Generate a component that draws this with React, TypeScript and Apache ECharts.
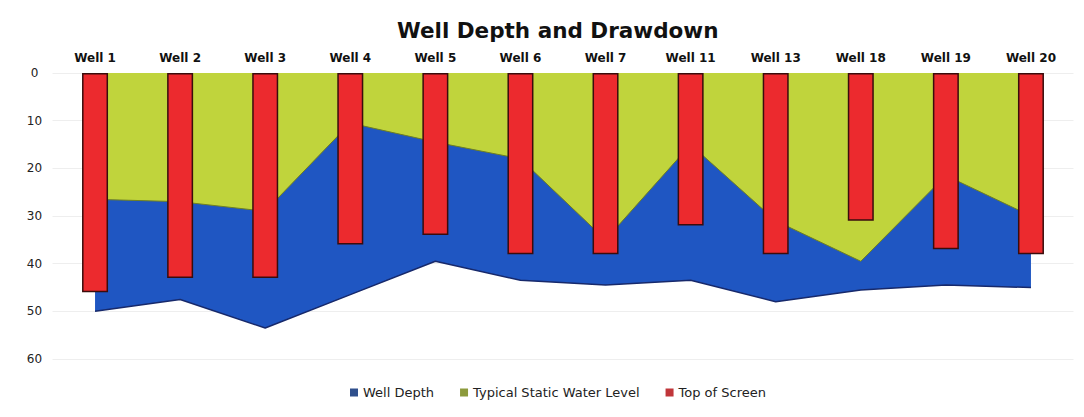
import React, { useEffect, useRef } from "react";
import * as echarts from "echarts";

const wells = ["Well 1", "Well 2", "Well 3", "Well 4", "Well 5", "Well 6", "Well 7", "Well 11", "Well 13", "Well 18", "Well 19", "Well 20"];
const wellDepth = [50, 47.5, 53.5, 46.5, 39.5, 43.5, 44.5, 43.5, 48, 45.5, 44.5, 45];
const staticWaterLevel = [26.5, 27, 29, 10.5, 14.5, 18, 35, 15, 31, 39.5, 21.5, 30];
const topOfScreen = [46, 43, 43, 36, 34, 38, 38, 32, 38, 31, 37, 38];
const yTicks = [0, 10, 20, 30, 40, 50, 60];

export default function App() {
  const ref = useRef<HTMLDivElement>(null);
  useEffect(() => {
    if (!ref.current) return;
    const chart = echarts.init(ref.current, undefined, { renderer: "svg" });
    const font = "'DejaVu Sans', 'Open Sans', sans-serif";
    chart.setOption({
      animation: false,
      backgroundColor: "#ffffff",
      textStyle: { fontFamily: font },
      title: {
        text: "Well Depth and Drawdown",
        left: 392,
        top: 14,
        textStyle: { fontFamily: font, fontSize: 21.5, fontWeight: "bold", color: "#111111" },
      },
      legend: {
        bottom: 13,
        left: 345,
        itemWidth: 8,
        itemHeight: 8,
        itemGap: 26,
        icon: "rect",
        textStyle: { fontFamily: font, fontSize: 13, color: "#222222" },
        data: [
          { name: "Well Depth", itemStyle: { color: "#2f4f8c", borderWidth: 0 } },
          { name: "Typical Static Water Level", itemStyle: { color: "#8c9a3c", borderWidth: 0 } },
          { name: "Top of Screen", itemStyle: { color: "#c0363a", borderWidth: 0 } },
        ],
      },
      grid: { left: 52.5, right: 10.5, top: 73, bottom: 58 },
      xAxis: {
        type: "category",
        position: "top",
        data: wells,
        boundaryGap: true,
        axisLine: { show: false },
        axisTick: { show: false },
        axisLabel: { fontFamily: font, fontSize: 12, fontWeight: "bold", color: "#111111", margin: 9 },
      },
      yAxis: {
        type: "value",
        inverse: true,
        min: yTicks[0],
        max: yTicks[yTicks.length - 1],
        interval: 10,
        axisLine: { show: false },
        axisTick: { show: false },
        splitLine: { show: true, lineStyle: { color: "#eeeeee", width: 1 } },
        axisLabel: { fontFamily: font, fontSize: 12, color: "#222222", align: "center", margin: 18 },
      },
      series: [
        {
          name: "Well Depth",
          type: "line",
          z: 2,
          data: wellDepth,
          symbol: "none",
          lineStyle: { color: "#17296b", width: 1.5 },
          itemStyle: { color: "#2f4f8c" },
          areaStyle: { color: "#1f56c2", opacity: 1 },
        },
        {
          name: "Typical Static Water Level",
          type: "line",
          z: 3,
          data: staticWaterLevel,
          symbol: "none",
          lineStyle: { color: "#6f7f22", width: 1 },
          itemStyle: { color: "#8c9a3c" },
          areaStyle: { color: "#c0d43c", opacity: 1 },
        },
        {
          name: "Top of Screen",
          type: "bar",
          z: 5,
          data: topOfScreen,
          barWidth: 26,
          itemStyle: { color: "#ec2a2e", borderColor: "#3a0c0c", borderWidth: 1.5 },
        },
      ],
    });
    return () => chart.dispose();
  }, []);
  return (
    <div
      ref={ref}
      style={{ position: "absolute", left: 0, top: 0, width: 1084, height: 417 }}
    />
  );
}
